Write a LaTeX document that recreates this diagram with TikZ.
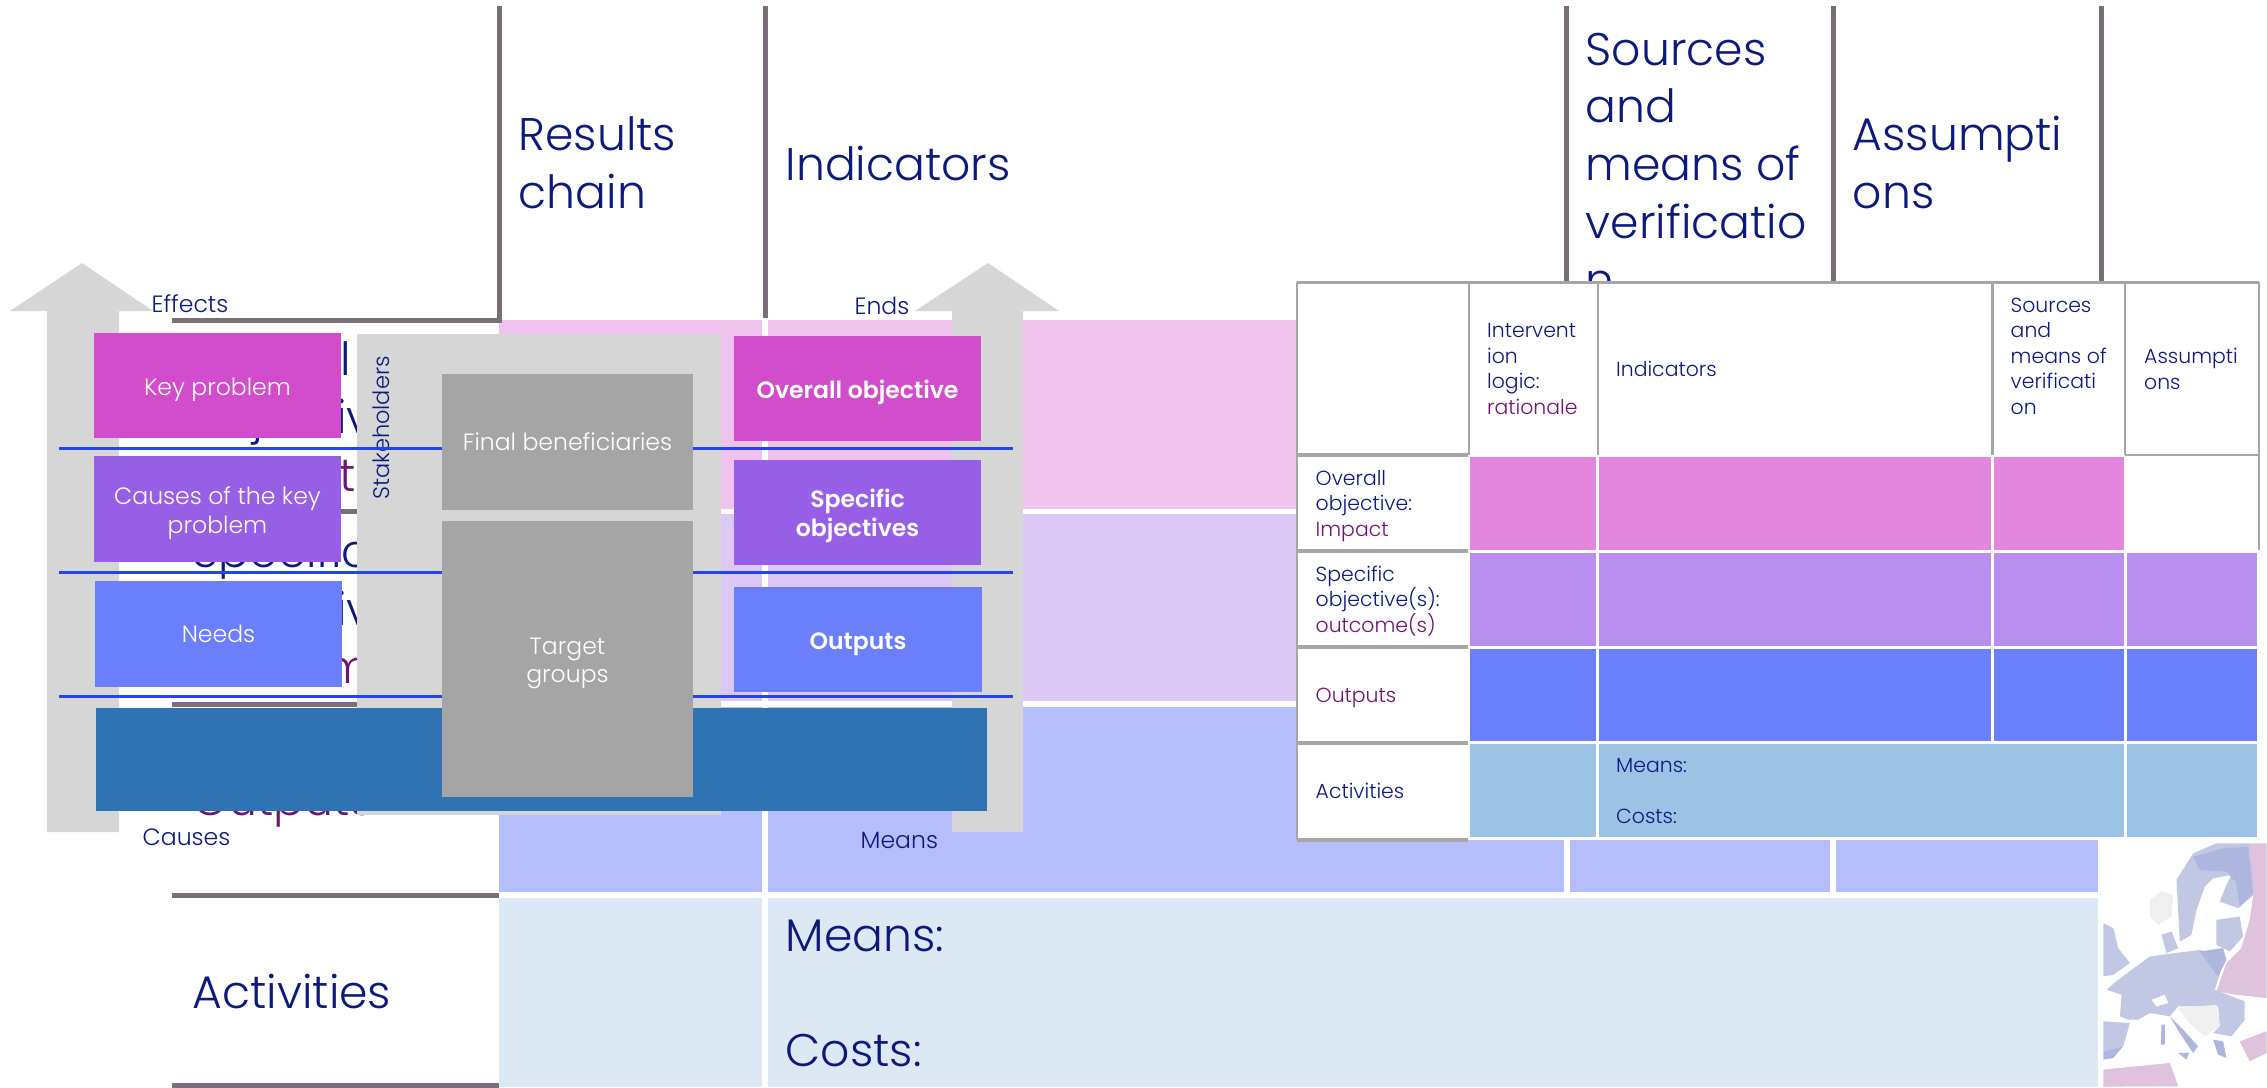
\documentclass[tikz,border=0pt]{standalone}
\usepackage{fontspec}
\setmainfont{Poppins}[UprightFont=* Light,BoldFont=* SemiBold]
\usepackage{tikz}
\usetikzlibrary{shapes.geometric,calc,positioning}
\definecolor{navytxt}{HTML}{0B1A7C}
\definecolor{plumtxt}{HTML}{701472}
\definecolor{darkrule}{HTML}{7A6E78}
\definecolor{tablerule}{HTML}{A6A6A6}
\definecolor{bgpink}{HTML}{F0C2EE}
\definecolor{bgpurple}{HTML}{DCC8F5}
\definecolor{bgblue}{HTML}{B5BEFA}
\definecolor{bglight}{HTML}{DDE8F5}
\definecolor{keypink}{HTML}{D24DCC}
\definecolor{keypurple}{HTML}{975FE6}
\definecolor{keyblue}{HTML}{6B7FFA}
\definecolor{keyband}{HTML}{2E74B5}
\definecolor{softgrey}{HTML}{D6D6D6}
\definecolor{midgrey}{HTML}{A5A5A5}
\definecolor{cellpink}{HTML}{E287DD}
\definecolor{cellpurple}{HTML}{B88FEF}
\definecolor{celllight}{HTML}{9CC2E6}
\definecolor{midline}{HTML}{2244E8}
\definecolor{mapblue}{HTML}{C2C7E3}
\definecolor{mapdeep}{HTML}{AEB5DE}
\definecolor{mappink}{HTML}{DFC2DB}
\definecolor{mappale}{HTML}{EFEFEF}
\newcommand{\lowtop}{\rule{0pt}{7.2pt}}
\tikzset{
  bigtext/.style={font=\fontsize{13}{16.4}\selectfont,text=navytxt,anchor=base west,inner sep=0pt,align=left},
  bigplum/.style={bigtext,text=plumtxt},
  tabtext/.style={font=\fontsize{5.8}{7.25}\selectfont,text=navytxt,anchor=base west,inner sep=0pt,align=left},
  sidetext/.style={font=\fontsize{6.7}{8}\selectfont,text=navytxt,anchor=base west,inner sep=0pt},
  keybox/.style={rectangle,inner sep=0pt,align=center,text=white,font=\fontsize{6.7}{8.2}\selectfont},
  greybox/.style={keybox,fill=midgrey},
  darkline/.style={draw=darkrule,line width=0.05cm},
  tabline/.style={draw=tablerule,line width=0.025cm},
  tabthick/.style={draw=tablerule,line width=0.04cm}
}
\begin{document}
\begin{tikzpicture}[x=0.01cm,y=-0.01cm]
   \useasboundingbox (0,0) rectangle (2267,1087);
   \fill[white] (0,0) rectangle (2267,1087);
   \fill[bgpink] (499,320) rectangle (762,509);
   \fill[bgpink] (768,320) rectangle (2098,509);
   \fill[bgpurple] (499,514) rectangle (762,701);
   \fill[bgpurple] (768,514) rectangle (2098,701);
   \fill[bgblue] (499,707) rectangle (762,892);
   \fill[bgblue] (768,707) rectangle (1564,892);
   \fill[bgblue] (1570,707) rectangle (1830,892);
   \fill[bgblue] (1836,707) rectangle (2098,892);
   \fill[bglight] (499,898) rectangle (762,1087);
   \fill[bglight] (768,898) rectangle (2098,1087);
   \draw[darkline] (499,6) -- (499,320) -- (172,320);
   \draw[darkline] (765,6) -- (765,318);
   \draw[darkline] (1566,6) -- (1566,284);
   \draw[darkline] (1833,6) -- (1833,284);
   \draw[darkline] (2101,6) -- (2101,284);
   \draw[darkline] (172,511) -- (499,511);
   \draw[darkline] (172,704) -- (499,704);
   \draw[darkline] (172,895.5) -- (499,895.5);
   \draw[darkline] (172,1085) -- (499,1085);
   \begin{scope}[shift={(2050,820)},x=0.00333cm,y=-0.00333cm]
    \fill[mappink] (600,70) -- (651,70) -- (651,535) -- (560,525) -- (500,515) -- (530,430) -- (575,385) -- (600,300) -- (610,230) -- cycle;
    \fill[mapblue] (380,180) -- (430,100) -- (500,70) -- (600,70) -- (612,225) -- (565,265) -- (510,245) -- (530,195) -- (545,165) -- (490,175) -- (465,200) -- (440,270) -- (425,345) -- (390,365) -- cycle;
    \fill[mapdeep] (430,110) -- (520,85) -- (595,80) -- (610,220) -- (570,260) -- (560,190) -- (530,155) -- (450,150) -- cycle;
    \fill[mapblue] (500,300) -- (570,290) -- (580,350) -- (540,395) -- (500,375) -- cycle;
    \fill[mappale] (300,240) -- (335,215) -- (370,225) -- (365,290) -- (325,315) -- (300,290) -- cycle;
    \fill[mapblue] (335,345) -- (365,335) -- (385,385) -- (350,400) -- cycle;
    \fill[mapblue] (160,310) -- (190,325) -- (205,385) -- (240,430) -- (190,465) -- (160,470) -- cycle;
    \fill[mapblue] (170,510) -- (205,480) -- (300,410) -- (450,390) -- (525,415) -- (495,510) -- (585,545) -- (585,600) -- (545,650) -- (490,640) -- (510,620) -- (505,560) -- (385,560) -- (360,590) -- (300,580) -- (265,600) -- (235,600) -- (210,590) -- (215,525) -- cycle;
    \fill[mapdeep] (450,395) -- (520,385) -- (530,420) -- (505,470) -- cycle;
    \fill[white] (305,540) -- (345,525) -- (355,550) -- (320,560) -- cycle;
    \fill[mapblue] (160,605) -- (240,610) -- (220,680) -- (160,695) -- cycle;
    \fill[mapdeep] (160,695) -- (220,680) -- (190,715) -- (160,720) -- cycle;
    \fill[mapdeep] (360,590) -- (400,630) -- (445,680) -- (430,700) -- (390,640) -- cycle;
    \fill[mapdeep] (335,615) -- (345,615) -- (345,675) -- (333,675) -- cycle;
    \fill[mapdeep] (385,700) -- (418,700) -- (410,720) -- cycle;
    \fill[mappale] (385,565) -- (500,555) -- (510,620) -- (465,650) -- (420,610) -- cycle;
    \fill[mapdeep] (490,660) -- (520,665) -- (530,715) -- (505,705) -- cycle;
    \fill[mappink] (570,665) -- (651,635) -- (651,700) -- (600,725) -- cycle;
    \fill[mappink] (160,750) -- (360,730) -- (385,800) -- (160,801) -- cycle;
   \end{scope}
   \node (r1) [bigtext] at (518,208) {Results\\chain};
   \node (r2) [bigtext] at (785,180) {Indicators};
   \node (r3) [bigtext] at (1585,296) {Sources\\and\\means of\\verificatio\\n};
   \node (r4) [bigtext] at (1852,208) {Assumpti\\ons};
   \node (l1) [bigtext] at (192,491) {Overall\\objective:\\ \textcolor{plumtxt}{Impact}};
   \node (l2) [bigtext] at (192,683) {Specific\\objective(s):\\ \textcolor{plumtxt}{outcome(s)}};
   \node (l3) [bigplum] at (192,815) {Outputs};
   \node (l4) [bigtext] at (192,1008) {Activities};
   \node (m1) [bigtext] at (785,951) {Means:};
   \node (m2) [bigtext] at (785,1066) {Costs:};
   \fill[softgrey] (82,263) -- (153,311) -- (119,311) -- (119,832) -- (47,832) -- (47,311) -- (10,311) -- cycle;
   \fill[softgrey] (988,263) -- (1059,311) -- (1023,311) -- (1023,832) -- (952,832) -- (952,311) -- (915,311) -- cycle;
   \node (s1) [sidetext] at (151,312) {Effects};
   \node (s2) [sidetext] at (854,314) {Ends};
   \node (s3) [sidetext] at (142,845) {Causes};
   \node (s4) [sidetext] at (860,848) {Means};
   \fill[softgrey] (357,334) rectangle (721,815);
   \node (s5) [sidetext,font=\fontsize{6.4}{8}\selectfont,rotate=90,anchor=center] at (381,428) {Stakeholders};
   \draw[midline,line width=0.03cm] (59,448.5) -- (1013,448.5);
   \draw[midline,line width=0.03cm] (59,572) -- (1013,572);
   \draw[midline,line width=0.03cm] (59,696) -- (1013,696);
   \fill[keyband] (96,708) rectangle (987,811);
   \begin{scope}[every node/.style={keybox,minimum width=2.47cm,minimum height=1.05cm}]
    \node (k1) [fill=keypink] at (217.5,385.5) {\lowtop Key problem};
    \node (k2) [fill=keypurple] at (217.5,509) {\lowtop Causes of the key\\problem};
    \node (k3) [fill=keyblue] at (218.5,634) {Needs};
    \node (o1) [fill=keypink] at (857.5,388.5) {\lowtop\textbf{Overall objective}};
    \node (o2) [fill=keypurple] at (857.5,512.5) {\lowtop\textbf{Specific}\\\textbf{objectives}};
    \node (o3) [fill=keyblue] at (858,639.5) {\lowtop\textbf{Outputs}};
   \end{scope}
   \node (g1) [greybox,minimum width=2.51cm,minimum height=1.36cm] at (567.5,442) {Final beneficiaries};
   \node (g2) [greybox,minimum width=2.51cm,minimum height=2.76cm] at (567.5,659) {\lowtop Target\\groups};
   \fill[white] (1297,282) rectangle (2259,840);
   \fill[cellpink] (1470,457) rectangle (1596,550);
   \fill[cellpink] (1599,457) rectangle (1991,550);
   \fill[cellpink] (1994,457) rectangle (2124,550);
   \fill[cellpurple] (1470,553) rectangle (1596,646);
   \fill[cellpurple] (1599,553) rectangle (1991,646);
   \fill[cellpurple] (1994,553) rectangle (2124,646);
   \fill[cellpurple] (2127,553) rectangle (2257,646);
   \fill[keyblue] (1470,649) rectangle (1596,741);
   \fill[keyblue] (1599,649) rectangle (1991,741);
   \fill[keyblue] (1994,649) rectangle (2124,741);
   \fill[keyblue] (2127,649) rectangle (2257,741);
   \fill[celllight] (1470,744) rectangle (1596,837);
   \fill[celllight] (1599,744) rectangle (2124,837);
   \fill[celllight] (2127,744) rectangle (2257,837);
   \draw[tabline] (1297,282.5) -- (2259,282.5);
   \draw[tabline] (1297,282) -- (1297,840);
   \draw[tabline] (2259,282) -- (2259,550);
   \draw[tabline] (1469,282) -- (1469,455);
   \draw[tabline] (1598,282) -- (1598,455);
   \draw[tabline] (1992.5,282) -- (1992.5,455);
   \draw[tabline] (2125,282) -- (2125,455);
   \draw[tabthick] (1297,455) -- (1468,455);
   \draw[tabline] (2125,455) -- (2259,455);
   \draw[tabthick] (1297,551) -- (1468,551);
   \draw[tabthick] (1297,647) -- (1468,647);
   \draw[tabthick] (1297,743) -- (1468,743);
   \draw[tabthick] (1297,840) -- (1468,840);
   \node (t1) [tabtext] at (1486.5,414) {Intervent\\ion\\logic:\\ \textcolor{plumtxt}{rationale}};
   \node (t2) [tabtext] at (1615.5,376) {Indicators};
   \node (t3) [tabtext] at (2010,414) {Sources\\and\\means of\\verificati\\on};
   \node (t4) [tabtext] at (2143.5,389) {Assumpti\\ons};
   \node (t5) [tabtext] at (1315,536) {Overall\\objective:\\ \textcolor{plumtxt}{Impact}};
   \node (t6) [tabtext] at (1315,632) {Specific\\objective(s):\\ \textcolor{plumtxt}{outcome(s)}};
   \node (t7) [tabtext,text=plumtxt] at (1315,702) {Outputs};
   \node (t8) [tabtext] at (1315,798) {Activities};
   \node (t9) [tabtext] at (1615.5,772) {Means:};
   \node (t10) [tabtext] at (1615.5,823) {Costs:};
\end{tikzpicture}
\end{document}
